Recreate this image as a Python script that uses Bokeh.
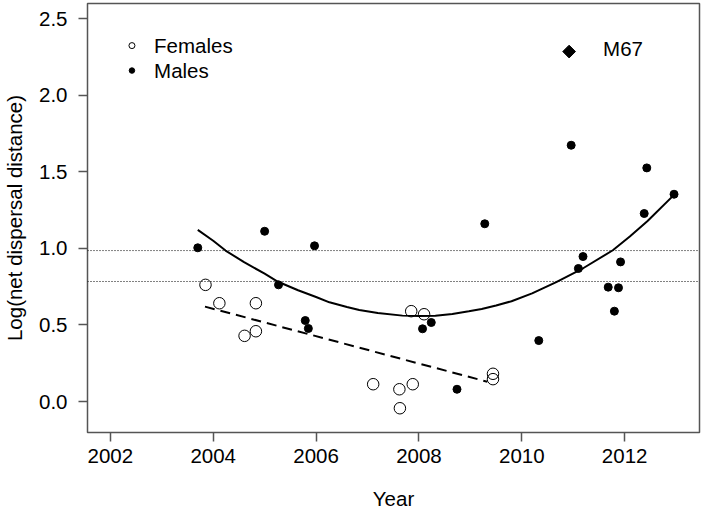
from bokeh.plotting import figure
from bokeh.models import Range1d, Span, FixedTicker, NumeralTickFormatter
from bokeh.core.properties import value
from bokeh.embed import file_html
from bokeh.resources import INLINE

FONT = "Liberation Sans"
FS = "20.5px"

# ---- data ----
female_year = [2003.85, 2004.12, 2004.83, 2004.61, 2004.83, 2007.85, 2008.10,
               2007.11, 2007.62, 2007.88, 2007.63, 2009.44, 2009.44]
female_logd = [0.762, 0.642, 0.642, 0.429, 0.459, 0.590, 0.570,
               0.113, 0.080, 0.113, -0.044, 0.181, 0.146]

male_year = [2003.70, 2005.00, 2005.97, 2005.27, 2005.79, 2005.85, 2008.24,
             2008.07, 2008.74, 2009.28, 2010.33, 2010.96, 2012.43, 2012.96,
             2012.38, 2011.19, 2011.10, 2011.92, 2011.68, 2011.88, 2011.80]
male_logd = [1.004, 1.112, 1.017, 0.762, 0.529, 0.477, 0.516,
             0.475, 0.080, 1.161, 0.398, 1.674, 1.526, 1.354,
             1.228, 0.947, 0.869, 0.912, 0.747, 0.743, 0.590]

m67_year = [2010.92]
m67_logd = [2.286]
m67_label = ["M67"]
m67_label_year = [2011.58]
m67_label_logd = [2.304]

# fitted curve for males
male_fit_year = [2003.70, 2004.00, 2004.24, 2004.60, 2005.00, 2005.26, 2005.65,
                 2006.00, 2006.26, 2006.60, 2006.84, 2007.20, 2007.68, 2008.00,
                 2008.32, 2008.65, 2008.97, 2009.22, 2009.50, 2009.80, 2010.20,
                 2010.67, 2011.20, 2011.77, 2012.10, 2012.44, 2012.96]
male_fit_logd = [1.121, 1.050, 0.986, 0.910, 0.835, 0.782, 0.727,
                 0.683, 0.648, 0.617, 0.598, 0.578, 0.561, 0.558,
                 0.560, 0.571, 0.589, 0.604, 0.627, 0.655, 0.706,
                 0.780, 0.872, 0.988, 1.078, 1.178, 1.350]

# fitted line for females (end points)
female_fit_year = [2003.84, 2009.33]
female_fit_logd = [0.620, 0.129]

# horizontal reference lines
ref_levels = [0.986, 0.784]

x_ticks = [2002, 2004, 2006, 2008, 2010, 2012]
x_tick_labels = ["2002", "2004", "2006", "2008", "2010", "2012"]
y_ticks = [0.0, 0.5, 1.0, 1.5, 2.0, 2.5]
y_tick_labels = ["0.0", "0.5", "1.0", "1.5", "2.0", "2.5"]

legend_labels = ["Females", "Males"]
legend_sym_year = [2002.42, 2002.42]
legend_txt_year = [2002.85, 2002.85]
legend_logd = [2.325, 2.162]

x_start, x_end = 2001.556, 2013.455
y_start, y_end = -0.2025, 2.60

# ---- figure ----
p = figure(width=702, height=512, output_backend="svg", toolbar_location=None,
           x_range=Range1d(x_start, x_end), y_range=Range1d(y_start, y_end),
           min_border_left=83, min_border_right=3, min_border_top=3,
           min_border_bottom=80,
           x_axis_label="Year", y_axis_label="Log(net dispersal distance)")

p.background_fill_color = "white"
p.border_fill_color = "white"
p.xgrid.grid_line_color = None
p.ygrid.grid_line_color = None
p.outline_line_color = "#555555"
p.outline_line_width = 1.5

p.xaxis.ticker = FixedTicker(ticks=x_ticks)
p.xaxis.major_label_overrides = {t: l for t, l in zip(x_ticks, x_tick_labels)}
p.yaxis.ticker = FixedTicker(ticks=y_ticks)
p.yaxis.formatter = NumeralTickFormatter(format="0.0")
p.yaxis.major_label_overrides = {t: l for t, l in zip(y_ticks, y_tick_labels)}

for ax in (p.xaxis[0], p.yaxis[0]):
    ax.axis_line_color = None
    ax.major_tick_line_color = "#555555"
    ax.major_tick_line_width = 1.5
    ax.major_tick_in = 0
    ax.major_tick_out = 9
    ax.minor_tick_line_color = None
    ax.major_label_text_font = FONT
    ax.major_label_text_font_size = FS
    ax.major_label_text_color = "black"
    ax.axis_label_text_font = FONT
    ax.axis_label_text_font_size = FS
    ax.axis_label_text_font_style = "normal"
    ax.axis_label_text_color = "black"

p.xaxis.major_label_standoff = 7
p.yaxis.major_label_standoff = 11
p.xaxis.axis_label_standoff = 21
p.yaxis.axis_label_standoff = 10

for lv in ref_levels:
    p.add_layout(Span(location=lv, dimension="width", line_color="black",
                      line_width=1, line_dash="1 2"))

p.line(male_fit_year, male_fit_logd, line_color="black", line_width=2)
p.line(female_fit_year, female_fit_logd, line_color="black", line_width=2,
       line_dash="10 6")

p.scatter(female_year, female_logd, marker="circle", size=11.5,
          fill_color=None, line_color="black", line_width=1)
p.scatter(male_year, male_logd, marker="circle", size=8,
          fill_color="black", line_color="black")

p.scatter(m67_year, m67_logd, marker="square", size=9, angle=0.785398,
          fill_color="black", line_color="black")
p.text(x=m67_label_year, y=m67_label_logd, text=m67_label,
       text_font=value(FONT), text_font_size=value(FS),
       text_baseline="middle", text_align="left", text_color="black")

# legend (drawn inside the plot, without box)
p.scatter([legend_sym_year[0]], [legend_logd[0]], marker="circle", size=6,
          fill_color=None, line_color="black", line_width=1)
p.scatter([legend_sym_year[1]], [legend_logd[1]], marker="circle", size=5.5,
          fill_color="black", line_color="black")
p.text(x=legend_txt_year, y=legend_logd, text=legend_labels,
       text_font=value(FONT), text_font_size=value(FS),
       text_baseline="middle", text_align="left", text_color="black")

open("out.html", "w").write(file_html(p, INLINE))
